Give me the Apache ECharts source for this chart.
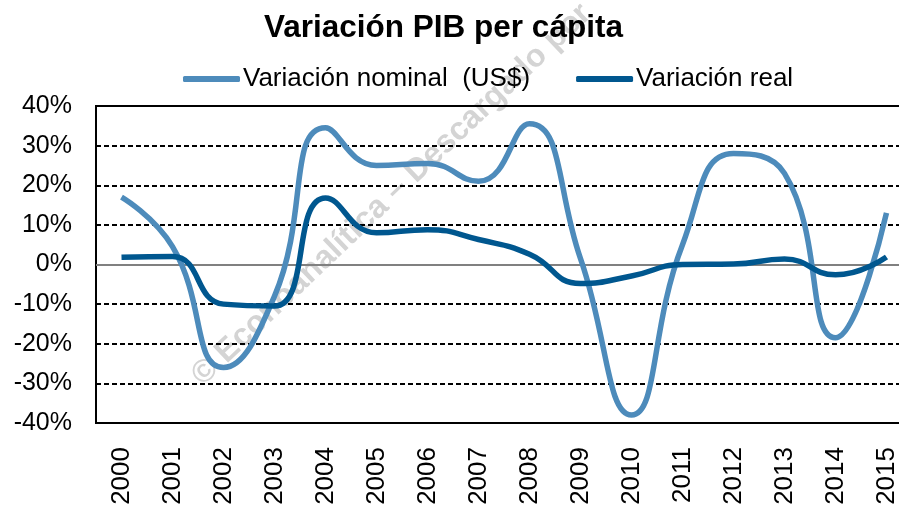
<!DOCTYPE html>
<html>
<head>
<meta charset="utf-8">
<script src="https://cdn.jsdelivr.net/npm/echarts@6/dist/echarts.min.js"></script>
<style>
  html, body { margin: 0; padding: 0; background: #fff; }
  #chart { width: 899px; height: 506px; }
</style>
</head>
<body>
<div id="chart"></div>
<script>
// datos (%)
var years = ['2000', '2001', '2002', '2003', '2004', '2005', '2006', '2007',
             '2008', '2009', '2010', '2011', '2012', '2013', '2014', '2015'];
var nominal = [17, 4.5, -26, -8, 34.5, 25, 25.5, 21, 35.5, 1.5, -38, 5, 28, 23, -18.5, 13];
var real = [1.8, 2, -10, -10.5, 16.8, 8, 8.8, 6.3, 2.6, -4.8, -2.9, 0, 0.1, 1.4, -2.6, 1.9];
var yTicks = { min: -40, max: 40, step: 10 };

var FONT = '"Liberation Sans", Arial, sans-serif';
var C_NOM = '#4d8bbb',
    C_REAL = '#00578f';

var chart = echarts.init(document.getElementById('chart'));
chart.setOption({
    animation: false,
    title: {
        text: 'Variación PIB per cápita',
        left: 264,
        top: 12,
        padding: 0,
        textStyle: { fontFamily: FONT, fontSize: 31.5, fontWeight: 'bold', color: '#000' }
    },
    legend: {
        data: [
            { name: 'Variación nominal  (US$)', icon: 'roundRect' },
            { name: 'Variación real', icon: 'roundRect' }
        ],
        left: 183,
        top: 66,
        padding: 0,
        itemWidth: 57,
        itemHeight: 6,
        itemGap: 46,
        textStyle: { fontFamily: FONT, fontSize: 26, color: '#000', padding: [0, 0, 0, -2] }
    },
    grid: {
        left: 96,
        top: 106,
        right: -13,
        bottom: 83,
        outerBoundsMode: 'none',
        show: true,
        borderColor: '#000',
        borderWidth: 2
    },
    xAxis: {
        type: 'category',
        data: years,
        boundaryGap: true,
        axisTick: { show: false },
        axisLine: { lineStyle: { color: '#000', width: 2 } },
        axisLabel: { rotate: 90, margin: 24, fontFamily: FONT, fontSize: 26, color: '#000' }
    },
    yAxis: {
        type: 'value',
        min: yTicks.min,
        max: yTicks.max,
        interval: yTicks.step,
        axisLine: { show: true, lineStyle: { color: '#000', width: 2 } },
        axisTick: { show: false },
        axisLabel: { formatter: '{value}%', margin: 24, fontFamily: FONT, fontSize: 25, color: '#000' },
        splitLine: { lineStyle: { color: '#000', width: 2, type: [5, 3] } }
    },
    graphic: [{
        type: 'text',
        x: 197,
        y: 380,
        rotation: 43.6 * Math.PI / 180,
        z: -1,
        silent: true,
        style: {
            text: '© Econoanalítica – Descargado por',
            fontFamily: FONT,
            fontSize: 32,
            fontWeight: 'bold',
            fill: '#d4d4d4',
            textVerticalAlign: 'middle'
        }
    }],
    series: [{
        name: 'Variación nominal  (US$)',
        type: 'line',
        data: nominal,
        smooth: 0.5,
        symbol: 'none',
        z: 3,
        lineStyle: { color: C_NOM, width: 5.5 },
        itemStyle: { color: C_NOM },
        markLine: {
            silent: true,
            symbol: 'none',
            label: { show: false },
            lineStyle: { color: '#808080', width: 2, type: 'solid' },
            data: [{ yAxis: 0 }],
            z: 2
        }
    }, {
        name: 'Variación real',
        type: 'line',
        data: real,
        smooth: 0.5,
        symbol: 'none',
        z: 4,
        lineStyle: { color: C_REAL, width: 5.5 },
        itemStyle: { color: C_REAL }
    }]
});
</script>
</body>
</html>
